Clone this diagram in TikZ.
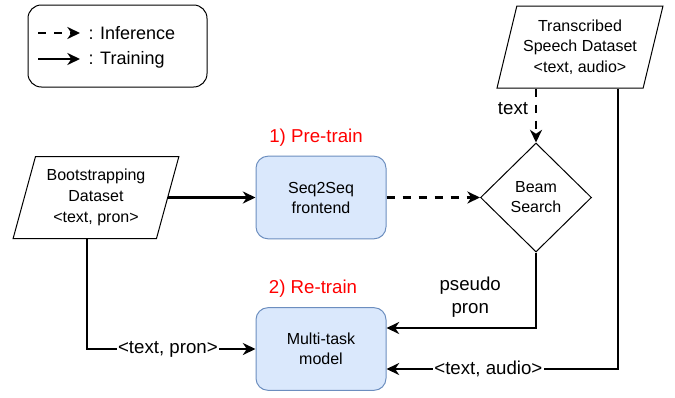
\documentclass[tikz,border=0pt]{standalone}
\usepackage{fontspec}
\setmainfont{Liberation Sans}
\usetikzlibrary{shapes.geometric,arrows.meta}

\tikzset{every picture/.style={line width=0.75pt}}
\tikzset{
  dataset/.style={trapezium, trapezium left angle=72, trapezium right angle=108, trapezium stretches=true, draw, minimum width=124.5pt, minimum height=61.5pt, inner sep=0pt, align=center, font=\fontsize{12}{15.5}\selectfont},
  model/.style={draw={rgb, 255:red, 108; green, 142; blue, 191}, fill={rgb, 255:red, 218; green, 232; blue, 252}, rounded corners=9pt, minimum width=97.5pt, minimum height=62pt, align=center, font=\fontsize{12}{15}\selectfont},
  decision/.style={diamond, draw, minimum width=83.25pt, minimum height=81.75pt, inner sep=0pt, align=center, font=\fontsize{12}{15}\selectfont},
  trainarrow/.style={line width=1.9pt, -{Stealth[length=9.5pt,width=9pt,inset=3pt]}},
  inferarrow/.style={trainarrow, dash pattern=on 6pt off 6pt},
  steplabel/.style={text=red, font=\fontsize{14}{17}\selectfont},
  edgelabel/.style={font=\fontsize{14}{17}\selectfont, inner sep=1pt, align=center},
  legendtext/.style={font=\fontsize{13.5}{16}\selectfont, inner sep=0pt}
}

\begin{document}
\begin{tikzpicture}[x=0.75pt,y=0.75pt,yscale=-1,xscale=1]
\useasboundingbox (0,0) rectangle (675,397);

%Legend
\draw [rounded corners=10pt] (28,5) rectangle (207,87) ;
\node [legendtext, anchor=base west] (lginf) at (88,39) {: Inference};
\node [legendtext, anchor=base west] (lgtrain) at (88,64) {: Training};
\coordinate (lginfstart) at (38,33);
\coordinate (lgtrainstart) at (38,59);
\draw [inferarrow] (lginfstart) -- (lginfstart -| {80,0}) ;
\draw [trainarrow] (lgtrainstart) -- (lgtrainstart -| {80,0}) ;

%Datasets
\node [dataset] (trans) at (580,47) {Transcribed\\Speech Dataset\\<text, audio>};
\node [dataset] (boot) at (96,197.5) {Bootstrapping\\Dataset\\<text, pron>};

%Models
\node [model] (seq) at (321,197.5) {Seq2Seq\\frontend};
\node [model] (multi) at (321,349) {Multi-task\\model};
\node [decision] (beam) at (536,197.5) {Beam\\Search};

% Text Node
\node [steplabel, anchor=base] (pretrain) at (316,142) {1) Pre-train};
% Text Node
\node [steplabel, anchor=base] (retrain) at (313,293) {2) Re-train};

%Connectors
\draw [trainarrow] (boot.east) -- (seq.west) ;
\draw [inferarrow] (seq.east) -- (beam.west) ;
\draw [inferarrow] (trans.south -| beam.north) -- (beam.north) node [edgelabel, pos=0.38, left=4pt] {text} ;
\draw [trainarrow] (beam.south) |- ([yshift=-15.75pt]multi.east) node [edgelabel, pos=0.72, above=7pt, inner sep=0pt] {pseudo\\pron} ;
\draw [trainarrow] ([xshift=28.5pt]trans.south) |- ([yshift=15pt]multi.east) node [edgelabel, pos=0.78, fill=white] {<text, audio>} ;
\draw [trainarrow] ([xshift=-6.75pt]boot.south) |- (multi.west) node [edgelabel, pos=0.74, fill=white] {<text, pron>} ;

\end{tikzpicture}
\end{document}
